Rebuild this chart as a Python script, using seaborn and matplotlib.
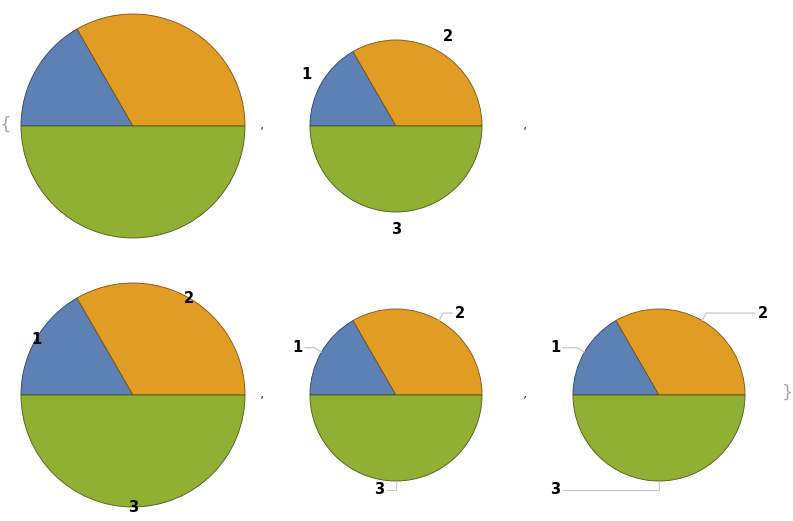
import numpy as np
import matplotlib.pyplot as plt
import seaborn as sns

sns.set_theme(style="white")
plt.rcParams['font.family'] = ['DejaVu Sans']

# data
values = [1, 2, 3]
labels = ["1", "2", "3"]
colors = ["#5E81B5", "#E19C24", "#8FB032"]
edge_colors = ["#2E4066", "#7A5210", "#4A5C14"]

W, H = 793, 521
fig = plt.figure(figsize=(W / 100, H / 100), dpi=100)
ax = fig.add_axes([0, 0, 1, 1])
ax.set_xlim(0, W)
ax.set_ylim(0, H)
ax.set_aspect("equal")
ax.axis("off")


def draw_pie(cx, cy, r):
    wedges, _ = ax.pie(values, colors=colors, startangle=180, counterclock=False,
                       center=(cx, cy), radius=r, frame=True,
                       wedgeprops=dict(linewidth=0.6))
    for w, ec in zip(wedges, edge_colors):
        w.set_edgecolor(ec)
    return wedges


def mid_angle(w):
    return np.radians((w.theta1 + w.theta2) / 2)


label_font = dict(fontsize=10.5, fontweight="bold", color="black")
lead = dict(color="#c8c8c8", lw=0.9)

# top row
draw_pie(133, 395, 112)
wedges = draw_pie(396, 395, 86)
for w, lab in zip(wedges, labels):
    a = mid_angle(w)
    ax.text(396 + 1.2 * 86 * np.cos(a), 395 + 1.2 * 86 * np.sin(a), lab,
            ha="center", va="center", **label_font)

# bottom row
wedges = draw_pie(133, 126, 112)
for w, lab in zip(wedges, labels):
    a = mid_angle(w)
    ax.text(133 + 112 * np.cos(a), 126 + 112 * np.sin(a), lab,
            ha="center", va="center", **label_font)

# leader lines, short
cx, cy, r = 396, 126, 86
wedges = draw_pie(cx, cy, r)
for w, lab in zip(wedges, labels):
    a = mid_angle(w)
    side = 1 if np.cos(a) > 0 else -1
    ex, ey = cx + r * np.cos(a), cy + r * np.sin(a)
    bx, by = cx + 1.1 * r * np.cos(a), cy + 1.1 * r * np.sin(a)
    lx = bx + side * 9
    ax.plot([ex, bx, lx], [ey, by, by], **lead)
    ax.text(lx + side * 7.5, by, lab, ha="center", va="center", **label_font)

# leader lines, aligned to columns
cx, cy, r = 659, 126, 86
wedges = draw_pie(cx, cy, r)
for w, lab in zip(wedges, labels):
    a = mid_angle(w)
    side = 1 if np.cos(a) > 0 else -1
    ex, ey = cx + r * np.cos(a), cy + r * np.sin(a)
    bx, by = cx + 1.1 * r * np.cos(a), cy + 1.1 * r * np.sin(a)
    lx = cx + side * 96
    ax.plot([ex, bx, lx], [ey, by, by], **lead)
    ax.text(lx + side * 8, by, lab, ha="center", va="center", **label_font)

# list punctuation
for x, y in [(262, 393), (525, 393), (262, 124), (525, 124)]:
    ax.text(x, y, ",", ha="center", va="baseline", fontsize=10, color="#444444")
ax.text(5, 396, "{", ha="center", va="center", fontsize=13, color="#aaaaaa")
ax.text(788, 128, "}", ha="center", va="center", fontsize=13, color="#aaaaaa")

fig.savefig("out.png", dpi=100)
